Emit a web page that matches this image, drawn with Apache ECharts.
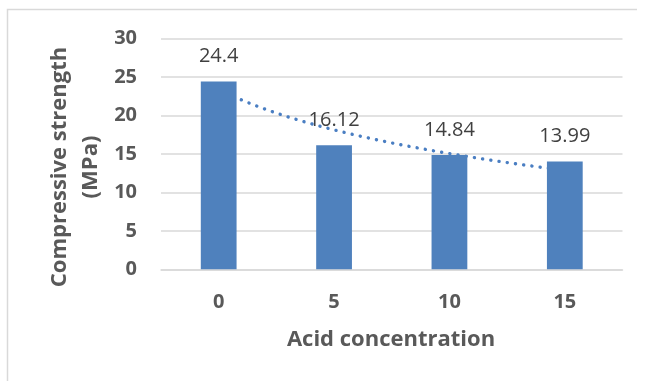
<!DOCTYPE html>
<html>
<head>
<meta charset="utf-8">
<script src="https://cdn.jsdelivr.net/npm/echarts@6/dist/echarts.min.js"></script>
<style>
  html, body { margin: 0; padding: 0; background: #fff; }
  #chart { width: 646px; height: 381px; }
</style>
</head>
<body>
<div id="chart"></div>
<script>
// Compressive strength vs. acid concentration
const categories = ['0', '5', '10', '15'];
const strength = [24.4, 16.12, 14.84, 13.99];
const yTicks = { min: 0, max: 30, interval: 5 };

// Logarithmic least-squares trendline, y = a*ln(x) + b, x = 1..n
function logTrend(values) {
  const n = values.length;
  const lx = values.map((_, i) => Math.log(i + 1));
  const mx = lx.reduce((s, v) => s + v, 0) / n;
  const my = values.reduce((s, v) => s + v, 0) / n;
  let sxy = 0, sxx = 0;
  for (let i = 0; i < n; i++) {
    sxy += (lx[i] - mx) * (values[i] - my);
    sxx += (lx[i] - mx) * (lx[i] - mx);
  }
  const a = sxy / sxx, b = my - a * mx;
  const pts = [];
  const steps = 60;
  for (let k = 0; k <= steps; k++) {
    const x = 1 + (n - 1) * k / steps;       // 1-based category position
    pts.push([x - 0.5, a * Math.log(x) + b]); // on a 0..n value axis, centres at i+0.5
  }
  return pts;
}
const trend = logTrend(strength);

const font = '"Open Sans", "Noto Sans", sans-serif';
const chart = echarts.init(document.getElementById('chart'), null, { renderer: 'canvas' });
chart.setOption({
  backgroundColor: '#ffffff',
  animation: false,
  grid: { left: 161, right: 23.5, top: 38.3, bottom: 111.7 },
  xAxis: [
    {
      type: 'category',
      data: categories,
      axisLine: { lineStyle: { color: '#d9d9d9', width: 1.5 } },
      axisTick: { show: false },
      axisLabel: { margin: 23, color: '#595959', fontFamily: font, fontWeight: 'bold', fontSize: 20 }
    },
    { type: 'value', min: 0, max: categories.length, show: false }
  ],
  yAxis: {
    type: 'value',
    min: yTicks.min, max: yTicks.max, interval: yTicks.interval,
    axisLine: { show: false },
    axisTick: { show: false },
    axisLabel: { margin: 24, color: '#595959', fontFamily: font, fontWeight: 'bold', fontSize: 20 },
    splitLine: { lineStyle: { color: '#d9d9d9', width: 1.5 } }
  },
  series: [
    {
      type: 'line',
      xAxisIndex: 1,
      data: trend,
      showSymbol: false,
      z: 1,
      lineStyle: { color: '#4a7ec2', width: 3.4, type: [0.1, 8.2], cap: 'round' }
    },
    {
      type: 'bar',
      data: strength,
      barWidth: '31%',
      z: 3,
      itemStyle: { color: '#4f81bd' },
      label: {
        show: true, position: 'top', distance: 15,
        color: '#404040', fontFamily: font, fontSize: 20
      }
    }
  ],
  graphic: [
    {
      type: 'polyline', silent: true, z: -10,
      shape: { points: [[7.5, 400], [7.5, 9.5], [637, 9.5]] },
      style: { fill: 'none', stroke: '#d9d9d9', lineWidth: 1.5 }
    },
    {
      type: 'text', x: 75, y: 167, rotation: Math.PI / 2,
      style: {
        text: 'Compressive strength\n(MPa)',
        align: 'center', verticalAlign: 'middle', lineHeight: 31,
        fill: '#595959', font: 'bold 22px ' + font
      }
    },
    {
      type: 'text', x: 391, y: 340,
      style: {
        text: 'Acid concentration',
        align: 'center', verticalAlign: 'middle',
        fill: '#595959', font: 'bold 22px ' + font
      }
    }
  ]
});
</script>
</body>
</html>
